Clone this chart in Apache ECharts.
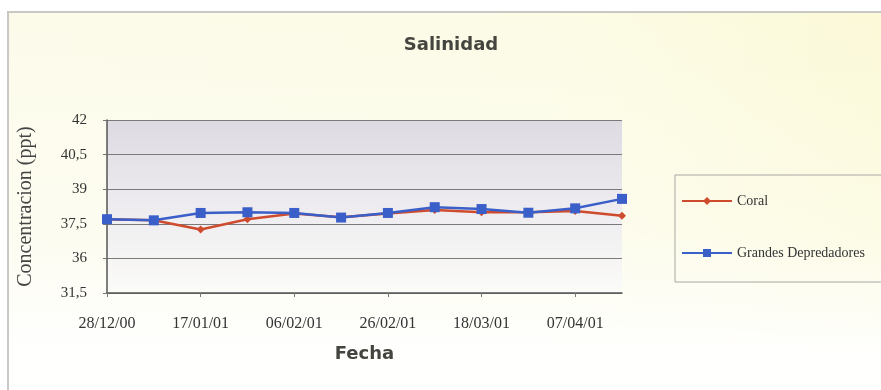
<!DOCTYPE html>
<html>
<head>
<meta charset="utf-8">
<style>
  html, body { margin: 0; padding: 0; background: #ffffff; }
  #chart { width: 881px; height: 390px; }
</style>
<script src="https://cdn.jsdelivr.net/npm/echarts@6/dist/echarts.min.js"></script>
</head>
<body>
<div id="chart"></div>
<script>
// Sampling dates (every 10 days)
const fechas = ['28/12/00', '07/01/01', '17/01/01', '27/01/01', '06/02/01', '16/02/01',
                '26/02/01', '08/03/01', '18/03/01', '28/03/01', '07/04/01', '17/04/01'];

// Salinity (ppt) per site
const coral = [37.7, 37.65, 37.25, 37.7, 37.95, 37.78, 37.95, 38.1, 38.0, 38.0, 38.05, 37.85];
const grandesDepredadores = [37.7, 37.65, 37.97, 38.0, 37.97, 37.77, 37.97, 38.22, 38.14, 37.98, 38.17, 38.58];

// Y tick labels, bottom to top
const yTickLabels = ['31,5', '36', '37,5', '39', '40,5', '42'];
const yMin = 34.5, yMax = 42, yStep = 1.5;

const chart = echarts.init(document.getElementById('chart'), null, { renderer: 'canvas' });

const serif = '"Liberation Serif", "DejaVu Serif", serif';
const sans = '"DejaVu Sans", sans-serif';

chart.setOption({
  animation: false,
  backgroundColor: '#ffffff',
  graphic: [
    {
      // chart area: cream, warmer towards the right
      type: 'rect',
      z: -10,
      shape: { x: 8, y: 12, width: 900, height: 400 },
      style: {
        fill: new echarts.graphic.LinearGradient(0, 0, 1, 0, [
          { offset: 0, color: '#fcfbea' },
          { offset: 0.6, color: '#fcfbe6' },
          { offset: 1, color: '#fbf9d6' }
        ]),
        stroke: '#c8c8c4',
        lineWidth: 2
      }
    },
    {
      // fade to white towards the bottom
      type: 'rect',
      z: -9,
      silent: true,
      shape: { x: 9, y: 13, width: 900, height: 400 },
      style: {
        fill: new echarts.graphic.LinearGradient(0, 0, 0, 1, [
          { offset: 0, color: 'rgba(255,255,255,0)' },
          { offset: 0.55, color: 'rgba(255,255,255,0.35)' },
          { offset: 0.85, color: 'rgba(255,255,255,0.95)' },
          { offset: 1, color: 'rgba(255,255,255,1)' }
        ])
      }
    }
  ],
  title: {
    text: 'Salinidad',
    left: 446,
    top: 31,
    textAlign: 'center',
    textStyle: { fontFamily: sans, fontWeight: 'bold', fontSize: 18, color: '#45453f' }
  },
  legend: {
    orient: 'vertical',
    left: 675,
    top: 175,
    padding: [19, 80, 22, 6],
    itemGap: 38,
    itemWidth: 50,
    itemHeight: 10,
    borderColor: '#a8a8a4',
    borderWidth: 1,
    backgroundColor: 'transparent',
    textStyle: { fontFamily: serif, fontSize: 14, color: '#333' },
    data: ['Coral', 'Grandes Depredadores']
  },
  grid: {
    left: 107,
    right: 259,
    top: 120,
    bottom: 97,
    show: true,
    borderWidth: 0,
    backgroundColor: new echarts.graphic.LinearGradient(0, 0, 0, 1, [
      { offset: 0, color: '#dddae2' },
      { offset: 0.45, color: '#eceaee' },
      { offset: 1, color: '#fbfbf8' }
    ])
  },
  xAxis: {
    type: 'category',
    data: fechas,
    boundaryGap: false,
    name: 'Fecha',
    nameLocation: 'middle',
    nameGap: 52,
    nameTextStyle: { fontFamily: sans, fontWeight: 'bold', fontSize: 18, color: '#45453f' },
    axisLine: { lineStyle: { color: '#555', width: 1.5 } },
    axisTick: { interval: 1, length: 4, lineStyle: { color: '#777' } },
    axisLabel: { interval: 1, margin: 23, fontFamily: serif, fontSize: 16, color: '#333' },
    splitLine: { show: false }
  },
  yAxis: {
    type: 'value',
    min: yMin,
    max: yMax,
    interval: yStep,
    name: 'Concentracion (ppt)',
    nameLocation: 'middle',
    nameGap: 71,
    nameTextStyle: { fontFamily: serif, fontSize: 20, color: '#444' },
    axisLine: { show: true, lineStyle: { color: '#555', width: 1.5 } },
    axisTick: { show: true, length: 4, lineStyle: { color: '#777' } },
    axisLabel: {
      margin: 20,
      fontFamily: serif, fontSize: 15, color: '#333',
      formatter: function (v) {
        const i = Math.round((v - yMin) / yStep);
        return yTickLabels[i];
      }
    },
    splitLine: { show: true, lineStyle: { color: '#7a7a7a', width: 1.2 } }
  },
  series: [
    {
      name: 'Coral',
      type: 'line',
      data: coral,
      color: '#cf4b2e',
      symbol: 'diamond',
      symbolSize: 8,
      lineStyle: { width: 2.5, color: '#cf4b2e' },
      itemStyle: { color: '#cf4b2e' },
      z: 2
    },
    {
      name: 'Grandes Depredadores',
      type: 'line',
      data: grandesDepredadores,
      color: '#3b5fc8',
      symbol: 'rect',
      symbolSize: 10,
      lineStyle: { width: 2.5, color: '#3b5fc8' },
      itemStyle: { color: '#3b5fc8' },
      z: 3
    }
  ]
});
</script>
</body>
</html>
